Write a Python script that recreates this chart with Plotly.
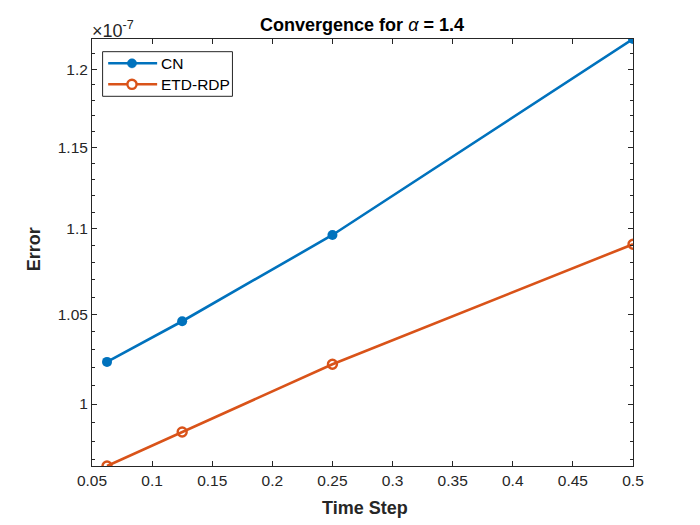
import plotly.graph_objs as go

# time steps and errors
time_step = [0.0625, 0.125, 0.25, 0.5]
err_cn = [1.0232e-7, 1.0461e-7, 1.0964e-7, 1.2199e-7]
err_etd = [0.9668e-7, 0.9849e-7, 1.0219e-7, 1.0909e-7]
series_names = ["CN", "ETD-RDP"]

x_ticks = [0.05, 0.1, 0.15, 0.2, 0.25, 0.3, 0.35, 0.4, 0.45, 0.5]
x_labels = ["0.05", "0.1", "0.15", "0.2", "0.25", "0.3", "0.35", "0.4", "0.45", "0.5"]
y_ticks = [1.0e-7, 1.05e-7, 1.1e-7, 1.15e-7, 1.2e-7]
y_labels = ["1", "1.05", "1.1", "1.15", "1.2"]
y_minor = [v * 1e-9 for v in range(97, 122)]

axis_col = "#262626"
blue = "#0072BD"
orange = "#D95319"
font_name = "Liberation Sans, Arial, sans-serif"

fig = go.Figure()

fig.add_trace(go.Scatter(x=time_step, y=err_cn, name=series_names[0], mode="lines+markers",
                         line=dict(color=blue, width=2.6),
                         marker=dict(symbol="circle", size=10, color=blue)))
fig.add_trace(go.Scatter(x=time_step, y=err_etd, name=series_names[1], mode="lines+markers",
                         line=dict(color=orange, width=2.6),
                         marker=dict(symbol="circle-open", size=9, color=orange,
                                     line=dict(width=2.4, color=orange))))

# the page has an 8px body margin, so the figure is 8px smaller each way
fig.update_layout(
    width=692, height=517,
    margin=dict(l=84, r=67, t=31, b=59),
    paper_bgcolor="white", plot_bgcolor="white",
    font=dict(family=font_name, size=15, color=axis_col),
    title=dict(text="<b>Convergence for</b> <i>α</i> <b>= 1.4</b>", x=0.5116, xanchor="center",
               y=0.967, yanchor="middle", font=dict(size=18, color="black")),
    showlegend=False,
)

fig.update_xaxes(
    range=[0.05, 0.5], tickvals=x_ticks, ticktext=x_labels,
    showgrid=False, zeroline=False, showline=True, linecolor=axis_col, linewidth=1,
    mirror="ticks", ticks="inside", ticklen=5, tickcolor=axis_col,
    tickfont=dict(size=15.5, color=axis_col),
)

fig.update_yaxes(
    type="log", range=[-7.01466, -6.91368], tickvals=y_ticks, ticktext=y_labels,
    showgrid=False, zeroline=False, showline=True, linecolor=axis_col, linewidth=1,
    mirror="ticks", ticks="inside", ticklen=5, tickcolor=axis_col,
    tickfont=dict(size=15.5, color=axis_col),
    minor=dict(tickvals=y_minor, ticks="inside", ticklen=3, tickcolor=axis_col, showgrid=False),
)

# axis titles and the exponent label
fig.add_annotation(text="<b>Time Step</b>", xref="paper", yref="paper", x=0.505, y=-0.098,
                   xanchor="center", yanchor="middle", showarrow=False,
                   font=dict(size=18, color=axis_col))
fig.add_annotation(text="<b>Error</b>", xref="paper", yref="paper", x=-0.1078, y=0.507,
                   xanchor="center", yanchor="middle", textangle=-90, showarrow=False,
                   font=dict(size=18, color=axis_col))
fig.add_annotation(text="×10<sup>-7</sup>", xref="paper", yref="paper", x=-0.004, y=0.99,
                   xanchor="left", yanchor="bottom", showarrow=False,
                   font=dict(size=18, color=axis_col))

# legend box drawn like the MATLAB one
fig.add_shape(type="rect", xref="paper", yref="paper", x0=0.0196, x1=0.2596, y0=0.8658, y1=0.9703,
              line=dict(color=axis_col, width=1), fillcolor="white", layer="above")
legend_rows = [(0.9431, blue, False), (0.8939, orange, True)]
for (row_y, col, hollow), label in zip(legend_rows, series_names):
    fig.add_shape(type="line", xref="paper", yref="paper", x0=0.0299, x1=0.1204, y0=row_y, y1=row_y,
                  line=dict(color=col, width=2.6), layer="above")
    fig.add_shape(type="circle", xref="paper", yref="paper", xsizemode="pixel", ysizemode="pixel",
                  xanchor=0.0739, yanchor=row_y, x0=-4.6, x1=4.6, y0=-4.6, y1=4.6,
                  line=dict(color=col, width=2.4 if hollow else 0.5),
                  fillcolor="white" if hollow else col, layer="above")
    fig.add_annotation(text=label, xref="paper", yref="paper", x=0.1241, y=row_y,
                       xanchor="left", yanchor="middle", showarrow=False,
                       font=dict(size=15.5, color="black"))

fig.write_html("out.html")
